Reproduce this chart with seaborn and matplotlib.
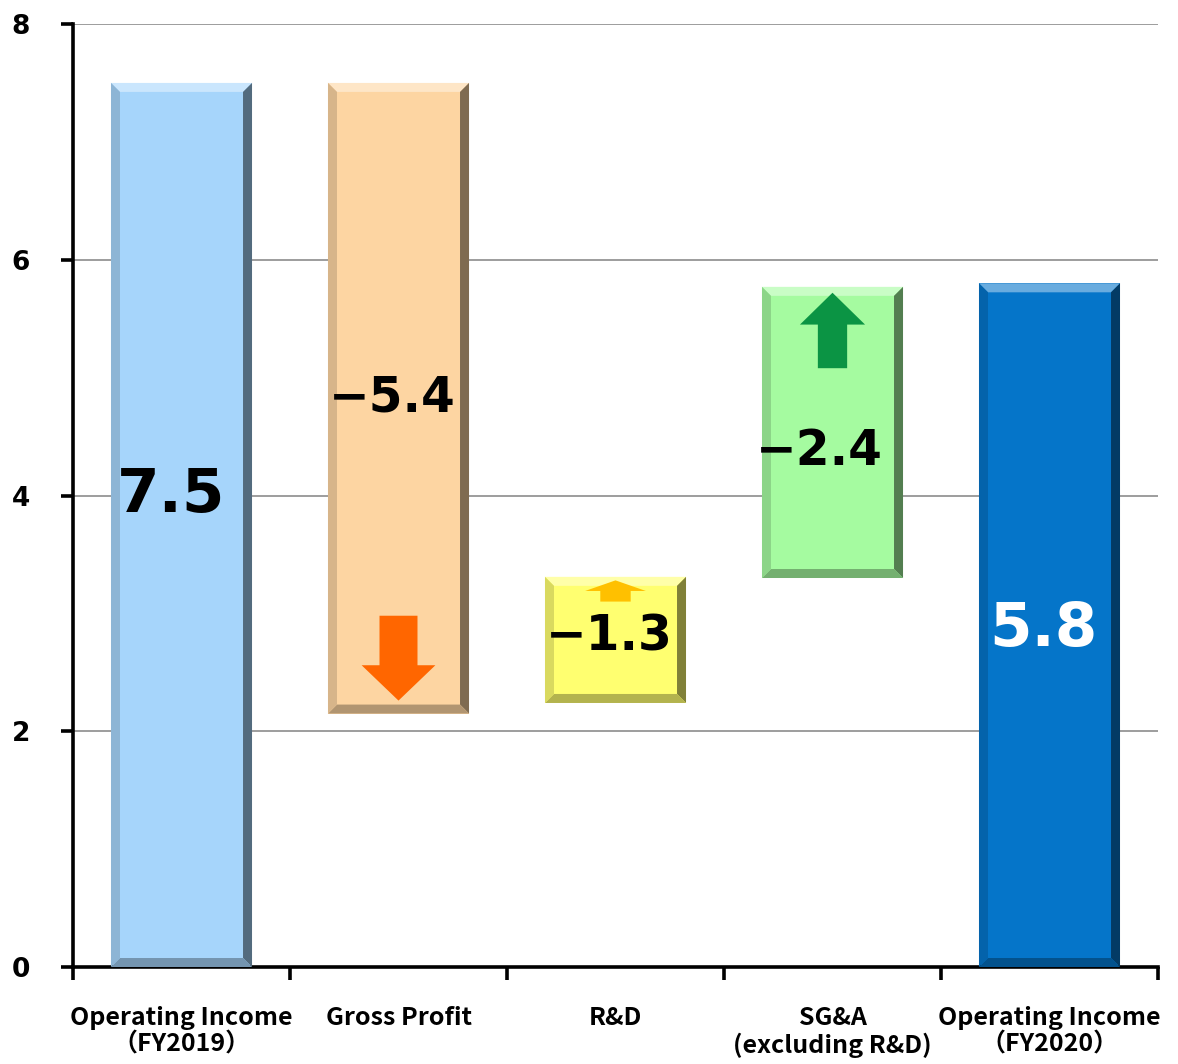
import numpy as np
import pandas as pd
import matplotlib
matplotlib.use("Agg")
import matplotlib.pyplot as plt
import matplotlib.transforms as mtransforms
import seaborn as sns
from matplotlib.colors import to_rgb

categories = ["Operating Income\n（FY2019）", "Gross Profit", "R&D",
              "SG&A\n(excluding R&D)", "Operating Income\n（FY2020）"]
bar_top = [7.5, 7.5, 3.31, 5.77, 5.8]
bar_bottom = [0.0, 2.15, 2.24, 3.30, 0.0]
value_labels = ["7.5", "\u22125.4", "\u22121.3", "\u22122.4", "5.8"]
bar_colors = ["#A6D5FB", "#FDD5A2", "#FFFF70", "#A5FBA0", "#0575C9"]

# label placement / style (kept apart from the data)
label_y = [4.0, 4.83, 2.80, 4.38, 2.86]
label_dx = [-0.05, -0.03, -0.03, -0.06, -0.03]
label_size = [44, 35, 35, 35, 44]
label_color = ["black", "black", "black", "black", "white"]

# arrows inside the change bars: (category, tail y, tip y, head len, head w, shaft w, colour)
arrows = [
    (1, 2.98, 2.26, 0.30, 0.34, 0.175, "#FF6600"),
    (2, 3.10, 3.28, 0.09, 0.28, 0.14, "#FFC000"),
    (3, 5.08, 5.72, 0.27, 0.30, 0.135, "#0B9444"),
]

df = pd.DataFrame({"cat": categories,
                   "height": np.array(bar_top) - np.array(bar_bottom)})

sns.set_style("white")
plt.rcParams["font.family"] = "DejaVu Sans"

fig = plt.figure(figsize=(11.78, 10.64), dpi=100)
ax = fig.add_axes([73 / 1178, 97 / 1064, 1085 / 1178, 943 / 1064])

sns.barplot(data=df, x="cat", y="height", hue="cat", palette=bar_colors,
            saturation=1, width=0.65, legend=False, ax=ax, zorder=2,
            linewidth=0)

# shift the floating bars up to their base
for patch, b in zip(ax.patches, bar_bottom):
    patch.set_y(b)

ax.set_xlim(-0.5, 4.5)
ax.set_ylim(0, 8)


def shade(c, f):
    c = np.array(to_rgb(c))
    if f > 0:
        return tuple(c + (1 - c) * f)
    return tuple(c * (1 + f))


# simple bevel look on each bar
dx = 9 / 1085 * 5
dy = 9 / 943 * 8
for patch, col in zip(ax.patches[:len(categories)], bar_colors):
    x0, y0 = patch.get_x(), patch.get_y()
    x1, y1 = x0 + patch.get_width(), y0 + patch.get_height()
    ax.fill([x0, x1, x1 - dx, x0 + dx], [y1, y1, y1 - dy, y1 - dy],
            color=shade(col, 0.4), lw=0, zorder=3)
    ax.fill([x1, x1, x1 - dx, x1 - dx], [y1, y0, y0 + dy, y1 - dy],
            color=shade(col, -0.5), lw=0, zorder=3)
    ax.fill([x0, x1, x1 - dx, x0 + dx], [y0, y0, y0 + dy, y0 + dy],
            color=shade(col, -0.3), lw=0, zorder=3)
    ax.fill([x0, x0, x0 + dx, x0 + dx], [y0, y1, y1 - dy, y0 + dy],
            color=shade(col, -0.15), lw=0, zorder=3)

# arrows
for cat, tail, tip, hl, hw, sw, col in arrows:
    sgn = 1 if tip > tail else -1
    base = tip - sgn * hl
    xs = [cat - sw / 2, cat - sw / 2, cat - hw / 2, cat, cat + hw / 2,
          cat + sw / 2, cat + sw / 2]
    ys = [tail, base, base, tip, base, base, tail]
    ax.fill(xs, ys, color=col, lw=0, zorder=4)

# value labels
for i, txt in enumerate(value_labels):
    ax.text(i + label_dx[i], label_y[i], txt, ha="center", va="center",
            fontsize=label_size[i], fontweight="bold", color=label_color[i],
            zorder=5)

# grid and axes
ax.set_yticks([0, 2, 4, 6, 8])
ax.yaxis.grid(True, color="#8C8C8C", linewidth=1.2, zorder=0)
ax.set_axisbelow(True)
for s in ["top", "right"]:
    ax.spines[s].set_visible(False)
for s in ["left", "bottom"]:
    ax.spines[s].set_linewidth(2.6)
    ax.spines[s].set_color("black")

ax.set_xticks(range(len(categories)))
ax.set_xticklabels(categories, fontsize=18, fontweight="bold",
                   linespacing=1.15, color="black", family="Noto Sans CJK JP")
shift = mtransforms.ScaledTranslation(6 / 100, 0, fig.dpi_scale_trans)
for t in ax.get_xticklabels():
    t.set_transform(t.get_transform() + shift)
ax.set_xticks(np.arange(-0.5, 5, 1), minor=True)
ax.tick_params(axis="x", which="major", length=0, pad=28, bottom=True)
ax.tick_params(axis="x", which="minor", length=9, width=2.6, direction="out",
               color="black", bottom=True)
ax.tick_params(axis="y", length=9, width=2.6, direction="out", color="black",
               pad=22, labelsize=19, left=True, labelcolor="black")
for t in ax.get_yticklabels():
    t.set_fontweight("bold")
ax.set_xlabel("")
ax.set_ylabel("")

fig.savefig("out.png", dpi=100)
